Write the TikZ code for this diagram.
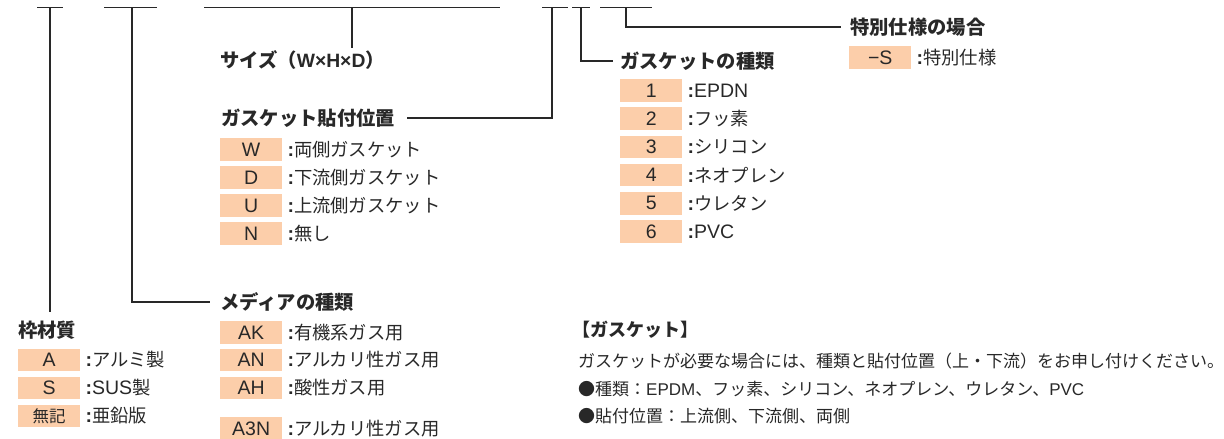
\documentclass[tikz,border=0pt]{standalone}
\usepackage{fontspec}
\setmainfont{Noto Sans CJK JP}
\newfontfamily\lat{Liberation Sans}
\usetikzlibrary{positioning}
\definecolor{peach}{RGB}{252,206,170}
\definecolor{ink}{RGB}{40,40,40}
\newcommand{\kolon}{{\lat\bfseries\fontsize{19.5}{20}\selectfont :}}
\newcommand{\la}[1]{{\lat\fontsize{19.5}{20}\selectfont #1}}

\begin{document}
\begin{tikzpicture}[x=1pt,y=-1pt,
        every node/.style={text=ink},
        bar/.style={draw=ink,line width=1.8pt},
        lead/.style={draw=ink,line width=1.2pt},
        tag/.style={fill=peach,minimum width=62pt,minimum height=22.5pt,inner sep=0pt,anchor=west,font=\lat\fontsize{19.5}{20}\selectfont},
        item/.style={right=5pt of #1,inner sep=0pt,font=\fontsize{18.3}{20}\selectfont},
        head/.style={anchor=west,inner sep=0pt,font=\bfseries\fontsize{19.3}{20}\selectfont},
        note/.style={anchor=west,inner sep=0pt,font=\fontsize{17}{20}\selectfont}]
        \useasboundingbox (0,0) rectangle (1224,439);

        % underlines of the code
        \draw[bar] (37,7.5) -- (63,7.5);
        \draw[bar] (104,7.5) -- (157,7.5);
        \draw[bar] (204,7.5) -- (500,7.5);
        \draw[bar] (542,7.5) -- (568,7.5);
        \draw[bar] (572,7.5) -- (590,7.5);
        \draw[bar] (600,7.5) -- (652,7.5);
        \coordinate (c1) at (50,7.5);
        \coordinate (c2) at (132,7.5);
        \coordinate (c3) at (352,7.5);
        \coordinate (c4) at (552,7.5);
        \coordinate (c5) at (581,7.5);
        \coordinate (c6) at (626,7.5);

        % special spec
        \node [head] (spec) at (850,27) {特別仕様の場合};
        \node [tag] (s) at (849,57.5) {−S};
        \node [item=s] (stxt) {\kolon 特別仕様};

        % size
        \node [head] (size) at (220,60) {サイズ（{\lat W×H×D}）};

        % gasket type
        \node [head] (gtype) at (620,61) {ガスケットの種類};
        \node [tag] (t1) at (620,90.5) {1};
        \node [item=t1] (t1txt) {\kolon\la{EPDN}};
        \node [tag] (t2) at (620,118.7) {2};
        \node [item=t2] (t2txt) {\kolon フッ素};
        \node [tag] (t3) at (620,146.9) {3};
        \node [item=t3] (t3txt) {\kolon シリコン};
        \node [tag] (t4) at (620,175.1) {4};
        \node [item=t4] (t4txt) {\kolon ネオプレン};
        \node [tag] (t5) at (620,203.3) {5};
        \node [item=t5] (t5txt) {\kolon ウレタン};
        \node [tag] (t6) at (620,231.5) {6};
        \node [item=t6] (t6txt) {\kolon\la{PVC}};

        % gasket position
        \node [head] (gpos) at (221,118) {ガスケット貼付位置};
        \node [tag] (w) at (220,149.5) {W};
        \node [item=w] (wtxt) {\kolon 両側ガスケット};
        \node [tag] (d) at (220,177.5) {D};
        \node [item=d] (dtxt) {\kolon 下流側ガスケット};
        \node [tag] (u) at (220,205.5) {U};
        \node [item=u] (utxt) {\kolon 上流側ガスケット};
        \node [tag] (n) at (220,233.5) {N};
        \node [item=n] (ntxt) {\kolon 無し};

        % frame material
        \node [head] (frame) at (18,330) {枠材質};
        \node [tag] (a) at (18,360) {A};
        \node [item=a] (atxt) {\kolon アルミ製};
        \node [tag] (sus) at (18,388) {S};
        \node [item=sus] (sustxt) {\kolon\la{SUS}製};
        \node [tag,font=\fontsize{16.5}{20}\selectfont] (zn) at (18,416) {無記};
        \node [item=zn] (zntxt) {\kolon 亜鉛版};

        % media
        \node [head] (media) at (220,302) {メディアの種類};
        \node [tag] (ak) at (220,332.5) {AK};
        \node [item=ak] (aktxt) {\kolon 有機系ガス用};
        \node [tag] (an) at (220,360) {AN};
        \node [item=an] (antxt) {\kolon アルカリ性ガス用};
        \node [tag] (ah) at (220,388) {AH};
        \node [item=ah] (ahtxt) {\kolon 酸性ガス用};
        \node [tag] (a3n) at (220,428.5) {A3N};
        \node [item=a3n] (a3ntxt) {\kolon アルカリ性ガス用};

        % gasket note
        \node [note,font=\bfseries\fontsize{18}{20}\selectfont] (gnote) at (572,330) {【ガスケット】};
        \node [note] (l1) at (578,361) {ガスケットが必要な場合には、種類と貼付位置（上・下流）をお申し付けください。};
        \node [note] (l2) at (578,389) {●種類：{\lat EPDM}、フッ素、シリコン、ネオプレン、ウレタン、{\lat PVC}};
        \node [note] (l3) at (578,416) {●貼付位置：上流側、下流側、両側};

        \draw[lead] (c1) -- ([yshift=9pt]c1 |- frame.north);
        \draw[lead] (c2) |- ([xshift=-10pt]media.west);
        \draw[lead] (c3) -- ([yshift=2pt]c3 |- size.north);
        \draw[lead] (c4) |- ([xshift=12pt]gpos.east);
        \draw[lead] (c5) |- ([xshift=-7pt]gtype.west);
        \draw[lead] (c6) |- ([xshift=-9pt]spec.west);
\end{tikzpicture}
\end{document}
